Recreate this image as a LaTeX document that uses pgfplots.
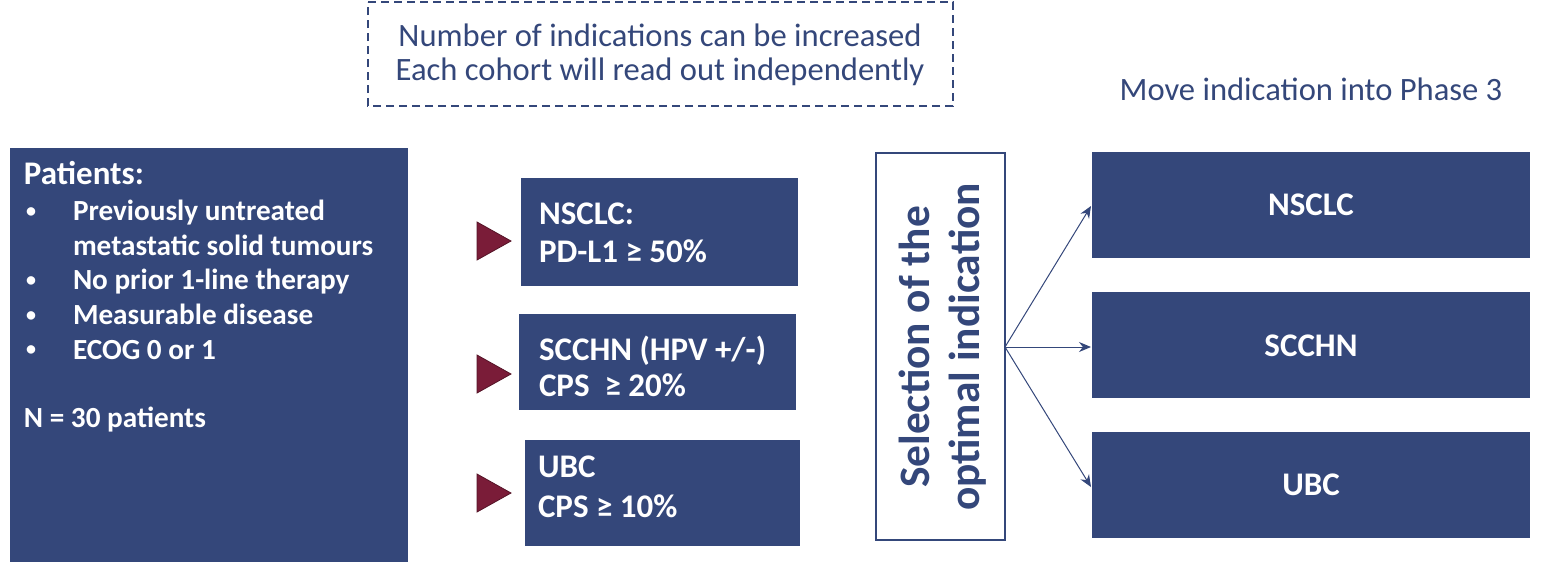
\documentclass[border=0pt]{standalone}
\usepackage{pgfplots}
\pgfplotsset{compat=1.18}
\usepackage{fontspec}
\setmainfont{Carlito}
\usetikzlibrary{arrows.meta}
\definecolor{navy}{RGB}{52,71,122}
\definecolor{wine}{RGB}{122,28,56}

\begin{document}
\begin{tikzpicture}[every node/.style={inner sep=0pt, outer sep=0pt}]
\begin{axis}[
  width=774pt, height=287.5pt, scale only axis,
  xmin=0, xmax=1548, ymin=0, ymax=575, y dir=reverse,
  axis lines=none, clip=false,
]
% frame for bounding box
\addplot[draw=none] coordinates {(0,0) (1548,575)};

% dashed note box
\addplot[navy, line width=0.8pt, dash pattern=on 4pt off 2.5pt] coordinates {(368,2) (953,2) (953,106) (368,106)} -- cycle;
\node[anchor=base, text=navy, font=\fontsize{16.3}{19}\selectfont] at (660,46) {Number of indications can be increased};
\node[anchor=base, text=navy, font=\fontsize{16.3}{19}\selectfont] at (660,80) {Each cohort will read out independently};

% phase 3 title
\node[anchor=base, text=navy, font=\fontsize{16.3}{19}\selectfont] at (1311,100) {Move indication into Phase 3};

% patients box
\addplot[fill=navy, draw=none] coordinates {(10,148) (408,148) (408,562) (10,562)} -- cycle;
\node[anchor=base west, text=white, font=\fontsize{16.5}{19}\selectfont\bfseries] at (24,184.5) {Patients:};
\node[anchor=base west, text=white, font=\fontsize{10}{12}\selectfont\bfseries] at (26,217) {•};
\node[anchor=base west, text=white, font=\fontsize{14.6}{17}\selectfont\bfseries] at (73,220.3) {Previously untreated};
\node[anchor=base west, text=white, font=\fontsize{14.6}{17}\selectfont\bfseries] at (73,255) {metastatic solid tumours};
\node[anchor=base west, text=white, font=\fontsize{10}{12}\selectfont\bfseries] at (26,286.4) {•};
\node[anchor=base west, text=white, font=\fontsize{14.6}{17}\selectfont\bfseries] at (73,289.7) {No prior 1-line therapy};
\node[anchor=base west, text=white, font=\fontsize{10}{12}\selectfont\bfseries] at (26,321.1) {•};
\node[anchor=base west, text=white, font=\fontsize{14.6}{17}\selectfont\bfseries] at (73,324.4) {Measurable disease};
\node[anchor=base west, text=white, font=\fontsize{10}{12}\selectfont\bfseries] at (26,355.8) {•};
\node[anchor=base west, text=white, font=\fontsize{14.6}{17}\selectfont\bfseries] at (73,359.1) {ECOG 0 or 1};
\node[anchor=base west, text=white, font=\fontsize{14.6}{17}\selectfont\bfseries] at (24,427.5) {N = 30 patients};

% triangles
\addplot[fill=wine, draw=wine!70!black, line width=0.4pt] coordinates {(477,222) (511,241) (477,260)} -- cycle;
\addplot[fill=wine, draw=wine!70!black, line width=0.4pt] coordinates {(477,355) (511,374) (477,393)} -- cycle;
\addplot[fill=wine, draw=wine!70!black, line width=0.4pt] coordinates {(477,474) (511,493) (477,512)} -- cycle;

% cohort boxes
\addplot[fill=navy, draw=none] coordinates {(521,178) (798,178) (798,286) (521,286)} -- cycle;
\addplot[fill=navy, draw=none] coordinates {(519,314) (796,314) (796,410) (519,410)} -- cycle;
\addplot[fill=navy, draw=none] coordinates {(525,440) (800,440) (800,546) (525,546)} -- cycle;
\node[anchor=base west, text=white, font=\fontsize{16.5}{19}\selectfont\bfseries] at (539,224) {NSCLC:};
\node[anchor=base west, text=white, font=\fontsize{16.5}{19}\selectfont\bfseries] at (539,262) {PD-L1 ≥ 50\%};
\node[anchor=base west, text=white, font=\fontsize{16.5}{19}\selectfont\bfseries] at (539,360) {SCCHN (HPV +/-)};
\node[anchor=base west, text=white, font=\fontsize{16.5}{19}\selectfont\bfseries] at (539,396) {CPS \ ≥ 20\%};
\node[anchor=base west, text=white, font=\fontsize{16.5}{19}\selectfont\bfseries] at (538,477) {UBC};
\node[anchor=base west, text=white, font=\fontsize{16.5}{19}\selectfont\bfseries] at (538,517) {CPS ≥ 10\%};

% selection box
\addplot[fill=white, draw=navy, line width=1pt] coordinates {(876,153) (1005,153) (1005,540) (876,540)} -- cycle;
\node[rotate=90, align=center, text=navy, font=\fontsize{21.7}{25}\selectfont\bfseries] at (943,347) {Selection of the\\optimal indication};

% arrows
\addplot[navy, line width=0.5pt, -{Stealth[length=6pt,width=5pt]}] coordinates {(1005,347) (1091,206)};
\addplot[navy, line width=0.5pt, -{Stealth[length=6pt,width=5pt]}] coordinates {(1005,347) (1091,347)};
\addplot[navy, line width=0.5pt, -{Stealth[length=6pt,width=5pt]}] coordinates {(1005,347) (1091,487)};

% phase 3 boxes
\addplot[fill=navy, draw=none] coordinates {(1092,152) (1530,152) (1530,258) (1092,258)} -- cycle;
\addplot[fill=navy, draw=none] coordinates {(1092,292) (1530,292) (1530,398) (1092,398)} -- cycle;
\addplot[fill=navy, draw=none] coordinates {(1092,432) (1530,432) (1530,538) (1092,538)} -- cycle;
\node[anchor=base, text=white, font=\fontsize{16.5}{19}\selectfont\bfseries] at (1311,215) {NSCLC};
\node[anchor=base, text=white, font=\fontsize{16.5}{19}\selectfont\bfseries] at (1311,356) {SCCHN};
\node[anchor=base, text=white, font=\fontsize{16.5}{19}\selectfont\bfseries] at (1311,495) {UBC};
\end{axis}
\end{tikzpicture}
\end{document}
